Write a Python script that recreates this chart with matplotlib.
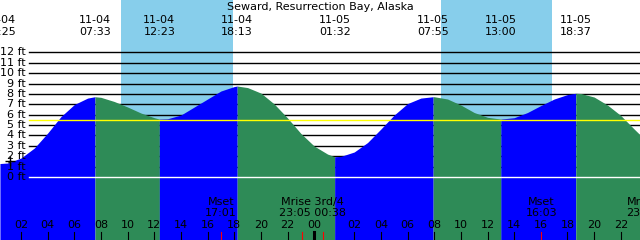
import numpy as np
import matplotlib
matplotlib.use('Agg')
import matplotlib.pyplot as plt
import matplotlib.transforms as mtransforms

# Eixo x: horas continuas desde 11-04 00:00 (AKDT); depois da troca de horario o relogio volta 1h
titulo = 'Seward, Resurrection Bay, Alaska'

# Leituras da curva de mare, uma por hora (h = 0..49), em pes
horas_curva = list(range(50))
altura_curva = [1.30, 1.35, 1.83, 2.79, 4.23, 5.82, 6.98, 7.60, 7.67, 7.27,
                6.74, 6.16, 5.71, 5.61, 5.97, 6.74, 7.51, 8.28, 8.71, 8.61,
                8.08, 7.03, 5.68, 4.19, 2.98, 2.21, 1.99, 2.41, 3.32, 4.62,
                5.97, 7.07, 7.60, 7.73, 7.51, 6.93, 6.21, 5.75, 5.58, 5.71,
                6.21, 6.88, 7.51, 7.94, 8.04, 7.70, 6.93, 5.92, 4.62, 3.37]

# Preamares e baixa-mares
horas_extremos = [0.42, 7.55, 12.38, 18.22, 25.53, 32.92, 38.00, 43.62]
altura_extremos = [1.30, 7.73, 5.58, 8.76, 1.95, 7.73, 5.58, 8.06]
datas_extremos = ['11-04', '11-04', '11-04', '11-04', '11-05', '11-05', '11-05', '11-05']
horarios_extremos = ['00:25', '07:33', '12:23', '18:13', '01:32', '07:55', '13:00', '18:37']

# Nascer e por do sol
nascer_sol = [9.50, 33.51]
por_sol = [17.90, 41.84]

# Marcas de hora no rodape
horas_ticks = [2, 4, 6, 8, 10, 12, 14, 16, 18, 20, 22, 24,
               27, 29, 31, 33, 35, 37, 39, 41, 43, 45, 47]
rotulos_ticks = ['02', '04', '06', '08', '10', '12', '14', '16', '18', '20', '22', '00',
                 '02', '04', '06', '08', '10', '12', '14', '16', '18', '20', '22']
meia_noite = [24]

# Eventos da lua
horas_lua = [17.02, 23.08, 24.63, 41.05, 48.60]
texto_lua_pos = [17.02, 23.86, 41.05, 48.60]
texto_lua_1 = ['Mset', 'Mrise 3rd/4', 'Mset', 'Mrise']
texto_lua_2 = ['17:01', '23:05 00:38', '16:03', '23:36']

niveis_ft = list(range(0, 13))
nivel_medio = 5.46
agora_h, agora_ft = 1.175, 1.54

# Figura ocupando toda a area
fig = plt.figure(figsize=(6.4, 2.4), dpi=100)
ax = fig.add_axes([0, 0, 1, 1])
ax.set_xlim(0.425, 48.44)
ax.set_ylim(-6.06, 17.04)
ax.set_facecolor('#00BFFF')
ax.axis('off')
ax.patch.set_visible(True)
for s in ax.spines.values():
    s.set_visible(False)

# Faixas de luz do dia
for a, b in zip(nascer_sol, por_sol):
    ax.axvspan(a, b, color='#87CEEB', lw=0, zorder=0.5)

# Linhas de grade (atras da curva)
for n in niveis_ft[1:]:
    ax.axhline(n, xmin=29 / 640, color='black', lw=1.0, zorder=1)

# Curva: junta leituras horarias e extremos
x = np.array(horas_curva + horas_extremos, dtype=float)
y = np.array(altura_curva + altura_extremos, dtype=float)
ordem = np.argsort(x)
x, y = x[ordem], y[ordem]

limites = [x[0]] + horas_extremos + [x[-1]]
for i in range(len(limites) - 1):
    a, b = limites[i], limites[i + 1]
    m = (x >= a) & (x <= b)
    if m.sum() < 2:
        continue
    subindo = y[m][-1] > y[m][0]
    cor = '#0000FF' if subindo else '#2E8B57'
    ax.fill_between(x[m], y[m], -10, color=cor, lw=0, zorder=2)

# Linha media (amarela) e zero (branca)
ax.axhline(nivel_medio, xmin=29 / 640, color='#FFFF00', lw=1.0, zorder=3)
ax.axhline(0, xmin=29 / 640, color='white', lw=1.0, zorder=3)

# Rotulos do eixo y
trans_y = mtransforms.blended_transform_factory(ax.transAxes, ax.transData)
for n in niveis_ft:
    ax.text(26 / 640, n, f'{n} ft', transform=trans_y, ha='right', va='center',
            fontsize=8, color='black', zorder=4)

ax.plot(agora_h, agora_ft, marker='+', color='black', ms=7, mew=1, zorder=5)

# Textos no topo
trans_x = mtransforms.blended_transform_factory(ax.transData, ax.transAxes)
ax.text(0.5, 1 - 7.5 / 240, titulo, transform=ax.transAxes, ha='center', va='center',
        fontsize=8, color='black')
for h, d, t in zip(horas_extremos, datas_extremos, horarios_extremos):
    ax.text(h, 1 - 20 / 240, d, transform=trans_x, ha='center', va='center', fontsize=8)
    ax.text(h, 1 - 32 / 240, t, transform=trans_x, ha='center', va='center', fontsize=8)

# Rodape: horas e marcas
for h, r in zip(horas_ticks, rotulos_ticks):
    ax.text(h, 1 - 225.5 / 240, r, transform=trans_x, ha='center', va='center',
            fontsize=8, zorder=4)
    lw = 2.2 if h in meia_noite else 0.8
    ax.axvline(h, ymin=0, ymax=8.3 / 240, color='black', lw=lw, zorder=4)
for h in horas_lua:
    ax.axvline(h, ymin=0, ymax=8.3 / 240, color='red', lw=0.8, zorder=5)
for h, t1, t2 in zip(texto_lua_pos, texto_lua_1, texto_lua_2):
    ax.text(h, 1 - 202 / 240, t1, transform=trans_x, ha='center', va='center', fontsize=8)
    ax.text(h, 1 - 213.5 / 240, t2, transform=trans_x, ha='center', va='center', fontsize=8)

fig.savefig('out.png', dpi=100)
